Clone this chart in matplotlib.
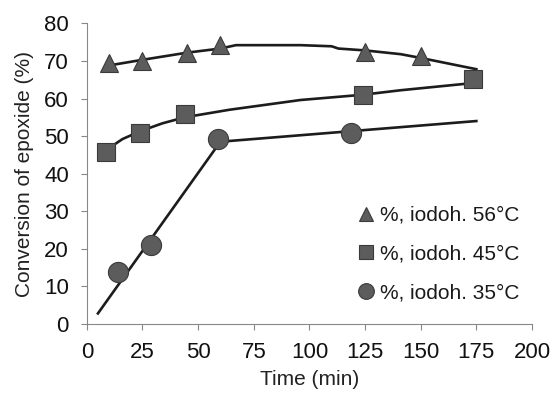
import matplotlib
matplotlib.use("Agg")
import matplotlib.pyplot as plt

plt.rcParams['font.family'] = ['Liberation Sans', 'DejaVu Sans']

# Measured points
t56 = [10, 25, 45, 60, 125, 150]
y56 = [69.5, 70, 72.2, 74.3, 72.5, 71.3]
t45 = [8.5, 24, 44, 124, 173.5]
y45 = [45.8, 50.8, 56, 61, 65.3]
t35 = [14, 29, 59, 118.5]
y35 = [13.9, 21, 49.2, 50.9]

# Trend lines
l56_x = [10, 25, 45, 60, 67, 96, 110, 113, 125, 141, 150, 175]
l56_y = [68.8, 70.3, 72.2, 73.3, 74.2, 74.2, 73.9, 73.3, 72.8, 71.8, 70.8, 67.8]
l45_x = [8.5, 12, 16, 24, 34, 44, 64, 96, 124, 141, 175]
l45_y = [45.3, 47.6, 49.2, 51.3, 53.4, 55, 57, 59.6, 61, 62.2, 64.2]
l35_x = [5, 60, 175]
l35_y = [2.8, 48.5, 54]

labels = ['%, iodoh. 56°C', '%, iodoh. 45°C', '%, iodoh. 35°C']
xticks = [0, 25, 50, 75, 100, 125, 150, 175, 200]
yticks = [0, 10, 20, 30, 40, 50, 60, 70, 80]

fig = plt.figure(figsize=(5.53, 3.96), dpi=100)
ax = fig.add_axes([0.157, 0.182, 0.805, 0.759])

lc = '#1c1c1c'
fc = '#5c5c5c'
ec = '#3a3a3a'
lw = 1.9

ax.plot(l56_x, l56_y, color=lc, lw=lw, zorder=2)
ax.plot(l45_x, l45_y, color=lc, lw=lw, zorder=2)
ax.plot(l35_x, l35_y, color=lc, lw=lw, zorder=2)

h1, = ax.plot(t56, y56, ls='none', marker='^', ms=13, mfc=fc, mec=ec, mew=0.8, zorder=3)
h2, = ax.plot(t45, y45, ls='none', marker='s', ms=13.5, mfc=fc, mec=ec, mew=0.8, zorder=3)
h3, = ax.plot(t35, y35, ls='none', marker='o', ms=14.5, mfc=fc, mec=ec, mew=0.8, zorder=3)

ax.set_xlim(0, 200)
ax.set_ylim(0, 80)
ax.set_xticks(xticks)
ax.set_yticks(yticks)
ax.tick_params(axis='y', labelsize=16, length=4, width=0.8, color='#888888', direction='out', pad=9, labelcolor='#111111')
ax.tick_params(axis='x', labelsize=16, length=4, width=0.8, color='#888888', direction='out', pad=9, labelcolor='#111111')
for s in ['top', 'right']:
    ax.spines[s].set_visible(False)
for s in ['left', 'bottom']:
    ax.spines[s].set_color('#888888')
    ax.spines[s].set_linewidth(0.8)

ax.set_xlabel('Time (min)', fontsize=15, color='#222222', labelpad=5)
ax.set_ylabel('Conversion of epoxide (%)', fontsize=15, color='#222222', labelpad=7)

leg = ax.legend([h1, h2, h3], labels, loc='lower right', bbox_to_anchor=(1.0, 0.03),
                frameon=False, fontsize=15, markerscale=0.78, handlelength=0.8,
                handletextpad=0.3, labelspacing=0.95, borderaxespad=0.2)
for t in leg.get_texts():
    t.set_color('#1a1a1a')

fig.savefig('out.png', dpi=100)
